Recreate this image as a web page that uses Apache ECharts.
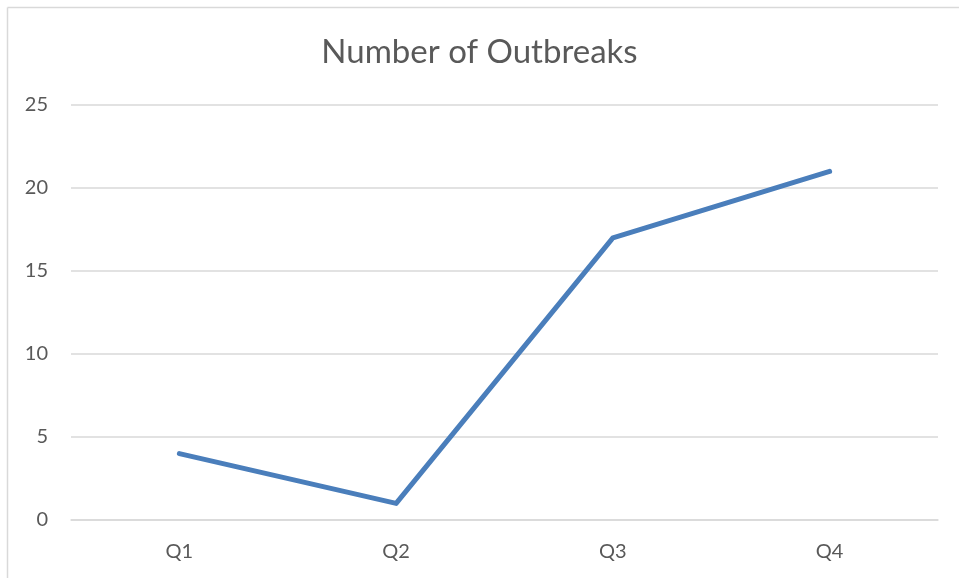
<!DOCTYPE html>
<html>
<head>
<meta charset="utf-8">
<script src="https://cdn.jsdelivr.net/npm/echarts@6/dist/echarts.min.js"></script>
<style>
  html, body { margin: 0; padding: 0; background: #fff; }
  #chart { width: 959px; height: 578px; }
</style>
</head>
<body>
<div id="chart"></div>
<script>
// Quarterly outbreak counts
const quarters = ['Q1', 'Q2', 'Q3', 'Q4'];
const outbreaks = [4, 1, 17, 21];
const yTicks = { min: 0, max: 25, step: 5 };

const chart = echarts.init(document.getElementById('chart'), null, { renderer: 'canvas' });
const textColor = '#595959';
const font = 'Lato, "Open Sans", sans-serif';

chart.setOption({
  animation: false,
  backgroundColor: '#fff',
  title: {
    text: 'Number of Outbreaks',
    left: 'center',
    top: 31,
    textStyle: { color: textColor, fontSize: 33, fontWeight: 'normal', fontFamily: font }
  },
  grid: { left: 71, right: 21, top: 105, bottom: 58, containLabel: false },
  xAxis: {
    type: 'category',
    data: quarters,
    boundaryGap: true,
    axisLine: { show: true, lineStyle: { color: '#d9d9d9', width: 1.5 } },
    axisTick: { show: false },
    axisLabel: { color: textColor, fontSize: 20, fontFamily: font, margin: 22 }
  },
  yAxis: {
    type: 'value',
    min: yTicks.min,
    max: yTicks.max,
    interval: yTicks.step,
    axisLine: { show: false },
    axisTick: { show: false },
    axisLabel: { color: textColor, fontSize: 20, fontFamily: font, margin: 23 },
    splitLine: { lineStyle: { color: '#d9d9d9', width: 1.5 } }
  },
  series: [{
    type: 'line',
    data: outbreaks,
    symbol: 'none',
    lineStyle: { color: '#4a7ebb', width: 5, cap: 'round', join: 'round' }
  }],
  graphic: [
    { type: 'line', shape: { x1: 7.5, y1: 7.5, x2: 959, y2: 7.5 }, style: { stroke: '#d9d9d9', lineWidth: 1.5 } },
    { type: 'line', shape: { x1: 7.5, y1: 7.5, x2: 7.5, y2: 578 }, style: { stroke: '#d9d9d9', lineWidth: 1.5 } }
  ]
});
</script>
</body>
</html>
